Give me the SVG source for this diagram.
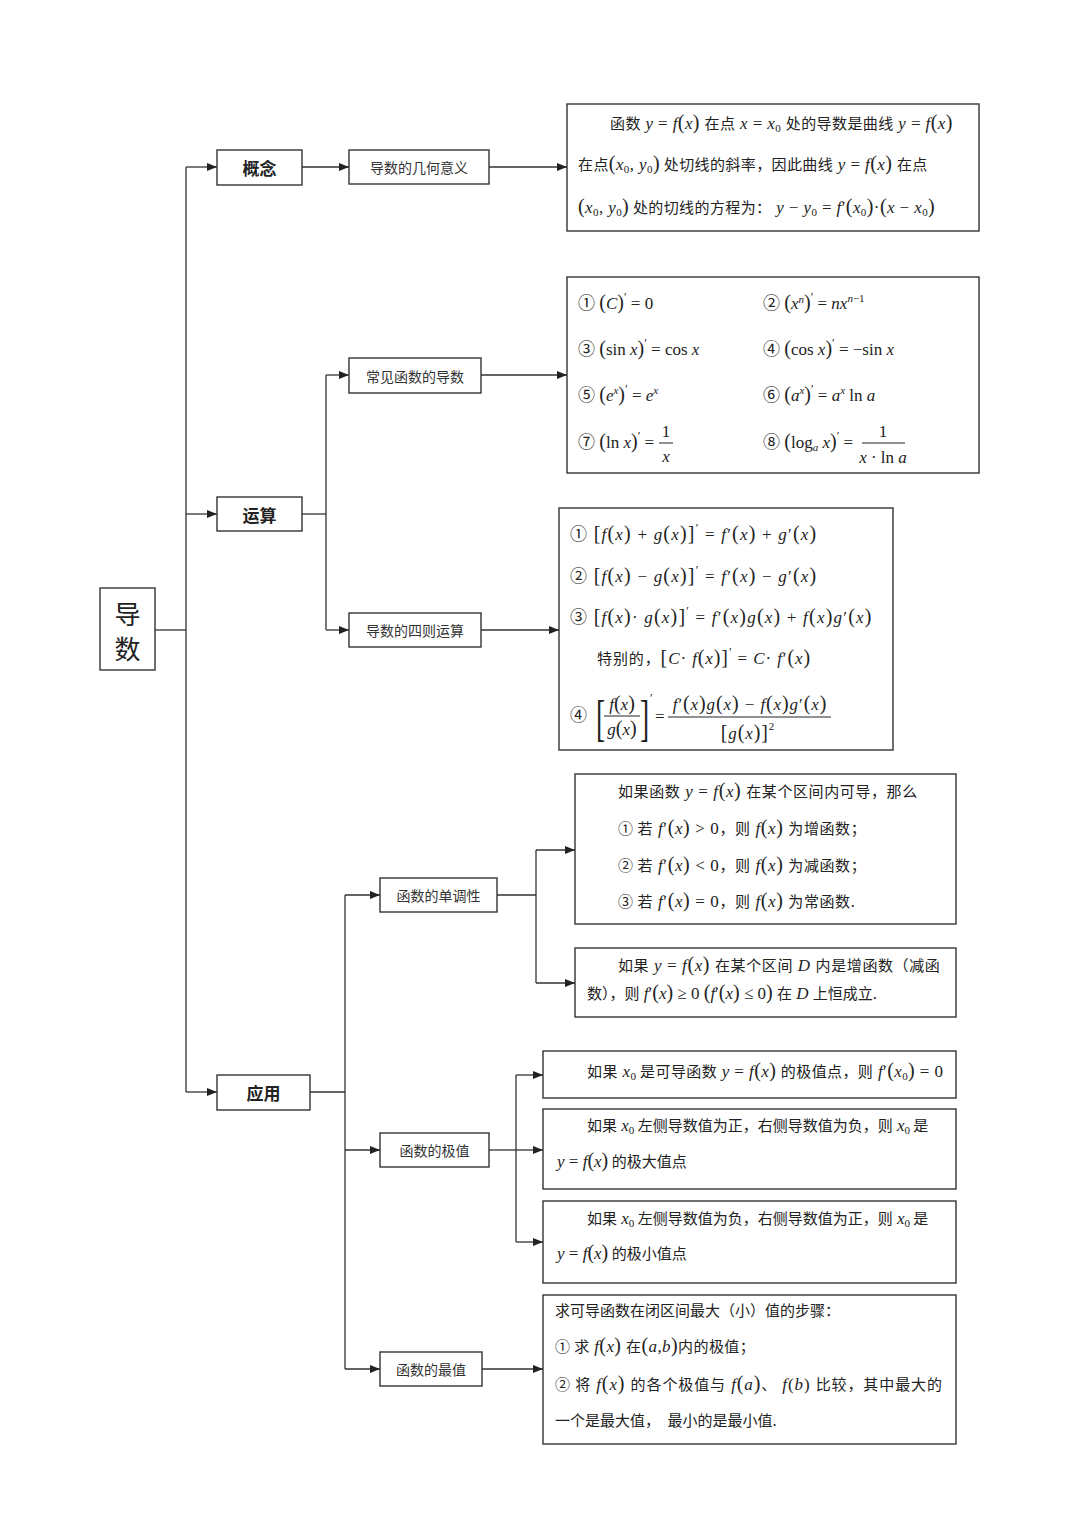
<svg xmlns="http://www.w3.org/2000/svg" width="1080" height="1529" viewBox="0 0 1080 1529">
<defs>
<style>
.box{fill:#fff;stroke:#333;stroke-width:1.4}
.ln{fill:none;stroke:#333;stroke-width:1.3}
.t{font-family:"Liberation Serif","Noto Sans CJK SC",serif;font-size:17px;fill:#222}
.c{font-family:"Noto Sans CJK SC","Liberation Serif",sans-serif;font-size:15px}
.i{font-style:italic}
.p{font-size:20px}
.s{font-size:11px}
.sp{font-size:12px}
.ls4{letter-spacing:0.4px}
.ls6{letter-spacing:0.6px}
.ls9{letter-spacing:0.9px}
.ls12{letter-spacing:1.2px}
.lab{font-family:"Noto Sans CJK SC",sans-serif;font-size:14px;fill:#333;text-anchor:middle;dominant-baseline:central}
.hd{font-family:"Noto Sans CJK SC",sans-serif;font-size:17px;font-weight:bold;fill:#222;text-anchor:middle;dominant-baseline:central}
.root{font-family:"Noto Sans CJK SC",sans-serif;font-size:26px;fill:#222;text-anchor:middle;dominant-baseline:central}
.mid{text-anchor:middle}
.bar{stroke:#222;stroke-width:1}
</style>
<marker id="ah" markerUnits="userSpaceOnUse" markerWidth="10" markerHeight="8" refX="10" refY="4" orient="auto">
<path d="M0,0 L10,4 L0,8 z" fill="#222"/>
</marker>
</defs>
<rect width="1080" height="1529" fill="#fff"/>

<g id="connectors">
<path class="ln" d="M155,630 H186"/>
<path class="ln" d="M186,167 V1092"/>
<path class="ln" d="M186,167 H217" marker-end="url(#ah)"/>
<path class="ln" d="M186,514 H217" marker-end="url(#ah)"/>
<path class="ln" d="M186,1092 H217" marker-end="url(#ah)"/>
<path class="ln" d="M302,167 H349" marker-end="url(#ah)"/>
<path class="ln" d="M489,167 H567" marker-end="url(#ah)"/>
<path class="ln" d="M302,514 H326"/>
<path class="ln" d="M326,375 V630"/>
<path class="ln" d="M326,375 H349" marker-end="url(#ah)"/>
<path class="ln" d="M326,630 H349" marker-end="url(#ah)"/>
<path class="ln" d="M481,375 H567" marker-end="url(#ah)"/>
<path class="ln" d="M481,630 H559" marker-end="url(#ah)"/>
<path class="ln" d="M310,1092 H345"/>
<path class="ln" d="M345,895 V1369"/>
<path class="ln" d="M345,895 H380" marker-end="url(#ah)"/>
<path class="ln" d="M345,1150 H380" marker-end="url(#ah)"/>
<path class="ln" d="M345,1369 H380" marker-end="url(#ah)"/>
<path class="ln" d="M497,895 H536"/>
<path class="ln" d="M536,850 V983"/>
<path class="ln" d="M536,850 H575" marker-end="url(#ah)"/>
<path class="ln" d="M536,983 H575" marker-end="url(#ah)"/>
<path class="ln" d="M489,1150 H516"/>
<path class="ln" d="M516,1075 V1242"/>
<path class="ln" d="M516,1075 H543" marker-end="url(#ah)"/>
<path class="ln" d="M516,1150 H543" marker-end="url(#ah)"/>
<path class="ln" d="M516,1242 H543" marker-end="url(#ah)"/>
<path class="ln" d="M482,1369 H543" marker-end="url(#ah)"/>
</g>

<g id="root">
<rect class="box" x="100" y="588" width="55" height="82"/>
<text class="root" x="127.5" y="612">导</text>
<text class="root" x="127.5" y="647">数</text>
</g>

<g id="gainian">
<rect class="box" x="217" y="150" width="85" height="35"/>
<text class="hd" x="259.5" y="167.5">概念</text>
</g>
<g id="yunsuan">
<rect class="box" x="217" y="497" width="85" height="34"/>
<text class="hd" x="259.5" y="514">运算</text>
</g>
<g id="yingyong">
<rect class="box" x="217" y="1075" width="93" height="35"/>
<text class="hd" x="263.5" y="1092.5">应用</text>
</g>

<g id="jihe">
<rect class="box" x="349" y="150" width="140" height="34"/>
<text class="lab" x="419" y="167">导数的几何意义</text>
</g>
<g id="changjian">
<rect class="box" x="349" y="358" width="132" height="35"/>
<text class="lab" x="415" y="375.5">常见函数的导数</text>
</g>
<g id="sizeyunsuan">
<rect class="box" x="349" y="613" width="132" height="34"/>
<text class="lab" x="415" y="630">导数的四则运算</text>
</g>
<g id="dandiao">
<rect class="box" x="380" y="878" width="117" height="34"/>
<text class="lab" x="438.5" y="895">函数的单调性</text>
</g>
<g id="jizhi">
<rect class="box" x="380" y="1133" width="109" height="34"/>
<text class="lab" x="434.5" y="1150">函数的极值</text>
</g>
<g id="zuizhi">
<rect class="box" x="380" y="1352" width="102" height="34"/>
<text class="lab" x="431" y="1369">函数的最值</text>
</g>

<g id="box-geometry">
<rect class="box" x="567" y="104" width="412" height="127"/>
<text class="t ls4" x="610" y="129"><tspan class="c">函数</tspan> <tspan class="i">y</tspan> = <tspan class="i">f</tspan><tspan class="p">(</tspan><tspan class="i">x</tspan><tspan class="p">)</tspan> <tspan class="c">在点</tspan> <tspan class="i">x</tspan> = <tspan class="i">x</tspan><tspan class="s" dy="3">0</tspan><tspan dy="-3"> </tspan><tspan class="c">处的导数是曲线</tspan> <tspan class="i">y</tspan> = <tspan class="i">f</tspan><tspan class="p">(</tspan><tspan class="i">x</tspan><tspan class="p">)</tspan></text>
<text class="t ls4" x="578" y="170"><tspan class="c">在点</tspan><tspan class="p">(</tspan><tspan class="i">x</tspan><tspan class="s" dy="3">0</tspan><tspan dy="-3">, </tspan><tspan class="i">y</tspan><tspan class="s" dy="3">0</tspan><tspan class="p" dy="-3">)</tspan><tspan class="c"> 处切线的斜率，因此曲线</tspan> <tspan class="i">y</tspan> = <tspan class="i">f</tspan><tspan class="p">(</tspan><tspan class="i">x</tspan><tspan class="p">)</tspan> <tspan class="c">在点</tspan></text>
<text class="t ls4" x="578" y="213"><tspan class="p">(</tspan><tspan class="i">x</tspan><tspan class="s" dy="3">0</tspan><tspan dy="-3">, </tspan><tspan class="i">y</tspan><tspan class="s" dy="3">0</tspan><tspan class="p" dy="-3">)</tspan><tspan class="c"> 处的切线的方程为：</tspan>  <tspan class="i">y</tspan> − <tspan class="i">y</tspan><tspan class="s" dy="3">0</tspan><tspan dy="-3"> = </tspan><tspan class="i">f</tspan>′<tspan class="p">(</tspan><tspan class="i">x</tspan><tspan class="s" dy="3">0</tspan><tspan class="p" dy="-3">)</tspan>·<tspan class="p">(</tspan><tspan class="i">x</tspan> − <tspan class="i">x</tspan><tspan class="s" dy="3">0</tspan><tspan class="p" dy="-3">)</tspan></text>
</g>

<g id="box-common">
<rect class="box" x="567" y="277" width="412" height="196"/>
<text class="t" x="578" y="309">①  <tspan class="p">(</tspan><tspan class="i">C</tspan><tspan class="p">)</tspan><tspan class="sp" dy="-8">′</tspan><tspan dy="8"> = 0</tspan></text>
<text class="t" x="763" y="309">②  <tspan class="p">(</tspan><tspan class="i">x</tspan><tspan class="s i" dy="-6">n</tspan><tspan class="p" dy="6">)</tspan><tspan class="sp" dy="-8">′</tspan><tspan dy="8"> = </tspan><tspan class="i">nx</tspan><tspan class="s" dy="-7"><tspan class="i">n</tspan>−1</tspan></text>
<text class="t" x="578" y="355">③  <tspan class="p">(</tspan>sin <tspan class="i">x</tspan><tspan class="p">)</tspan><tspan class="sp" dy="-8">′</tspan><tspan dy="8"> = cos </tspan><tspan class="i">x</tspan></text>
<text class="t" x="763" y="355">④  <tspan class="p">(</tspan>cos <tspan class="i">x</tspan><tspan class="p">)</tspan><tspan class="sp" dy="-8">′</tspan><tspan dy="8"> = −sin </tspan><tspan class="i">x</tspan></text>
<text class="t" x="578" y="401">⑤  <tspan class="p">(</tspan><tspan class="i">e</tspan><tspan class="s i" dy="-7">x</tspan><tspan class="p" dy="7">)</tspan><tspan class="sp" dy="-8">′</tspan><tspan dy="8"> = </tspan><tspan class="i">e</tspan><tspan class="s i" dy="-7">x</tspan></text>
<text class="t" x="763" y="401">⑥  <tspan class="p">(</tspan><tspan class="i">a</tspan><tspan class="s i" dy="-7">x</tspan><tspan class="p" dy="7">)</tspan><tspan class="sp" dy="-8">′</tspan><tspan dy="8"> = </tspan><tspan class="i">a</tspan><tspan class="s i" dy="-7">x</tspan><tspan dy="7"> ln </tspan><tspan class="i">a</tspan></text>
<text class="t" x="578" y="448">⑦  <tspan class="p">(</tspan>ln <tspan class="i">x</tspan><tspan class="p">)</tspan><tspan class="sp" dy="-8">′</tspan><tspan dy="8"> =</tspan></text>
<text class="t mid" x="666" y="437">1</text>
<line class="bar" x1="659" y1="443" x2="673" y2="443"/>
<text class="t mid i" x="666" y="462">x</text>
<text class="t" x="763" y="448">⑧  <tspan class="p">(</tspan>log<tspan class="s i" dy="3">a</tspan><tspan dy="-3"> </tspan><tspan class="i">x</tspan><tspan class="p">)</tspan><tspan class="sp" dy="-8">′</tspan><tspan dy="8"> =</tspan></text>
<text class="t mid" x="883" y="437">1</text>
<line class="bar" x1="862" y1="443" x2="905" y2="443"/>
<text class="t mid" x="883" y="463"><tspan class="i">x</tspan> · ln <tspan class="i">a</tspan></text>
</g>

<g id="box-rules">
<rect class="box" x="559" y="508" width="334" height="242"/>
<text class="t ls12" x="570" y="540">①  <tspan class="p">[</tspan><tspan class="i">f</tspan><tspan class="p">(</tspan><tspan class="i">x</tspan><tspan class="p">)</tspan> + <tspan class="i">g</tspan><tspan class="p">(</tspan><tspan class="i">x</tspan><tspan class="p">)]</tspan><tspan class="sp" dy="-8">′</tspan><tspan dy="8"> = </tspan><tspan class="i">f</tspan>′<tspan class="p">(</tspan><tspan class="i">x</tspan><tspan class="p">)</tspan> + <tspan class="i">g</tspan>′<tspan class="p">(</tspan><tspan class="i">x</tspan><tspan class="p">)</tspan></text>
<text class="t ls12" x="570" y="582">②  <tspan class="p">[</tspan><tspan class="i">f</tspan><tspan class="p">(</tspan><tspan class="i">x</tspan><tspan class="p">)</tspan> − <tspan class="i">g</tspan><tspan class="p">(</tspan><tspan class="i">x</tspan><tspan class="p">)]</tspan><tspan class="sp" dy="-8">′</tspan><tspan dy="8"> = </tspan><tspan class="i">f</tspan>′<tspan class="p">(</tspan><tspan class="i">x</tspan><tspan class="p">)</tspan> − <tspan class="i">g</tspan>′<tspan class="p">(</tspan><tspan class="i">x</tspan><tspan class="p">)</tspan></text>
<text class="t ls12" x="570" y="623">③  <tspan class="p">[</tspan><tspan class="i">f</tspan><tspan class="p">(</tspan><tspan class="i">x</tspan><tspan class="p">)</tspan>· <tspan class="i">g</tspan><tspan class="p">(</tspan><tspan class="i">x</tspan><tspan class="p">)]</tspan><tspan class="sp" dy="-8">′</tspan><tspan dy="8"> = </tspan><tspan class="i">f</tspan>′<tspan class="p">(</tspan><tspan class="i">x</tspan><tspan class="p">)</tspan><tspan class="i">g</tspan><tspan class="p">(</tspan><tspan class="i">x</tspan><tspan class="p">)</tspan> + <tspan class="i">f</tspan><tspan class="p">(</tspan><tspan class="i">x</tspan><tspan class="p">)</tspan><tspan class="i">g</tspan>′<tspan class="p">(</tspan><tspan class="i">x</tspan><tspan class="p">)</tspan></text>
<text class="t ls9" x="597" y="664"><tspan class="c">特别的，</tspan><tspan class="p">[</tspan><tspan class="i">C</tspan>· <tspan class="i">f</tspan><tspan class="p">(</tspan><tspan class="i">x</tspan><tspan class="p">)]</tspan><tspan class="sp" dy="-8">′</tspan><tspan dy="8"> = </tspan><tspan class="i">C</tspan>· <tspan class="i">f</tspan>′<tspan class="p">(</tspan><tspan class="i">x</tspan><tspan class="p">)</tspan></text>
<text class="t" x="570" y="721">④</text>
<text class="t" transform="translate(596,735) scale(0.55,1)" style="font-size:50px">[</text>
<text class="t mid" x="622" y="710"><tspan class="i">f</tspan><tspan class="p">(</tspan><tspan class="i">x</tspan><tspan class="p">)</tspan></text>
<line class="bar" x1="604" y1="716" x2="640" y2="716"/>
<text class="t mid" x="622" y="735"><tspan class="i">g</tspan><tspan class="p">(</tspan><tspan class="i">x</tspan><tspan class="p">)</tspan></text>
<text class="t" transform="translate(640,735) scale(0.55,1)" style="font-size:50px">]</text>
<text class="t" x="650" y="702" style="font-size:12px">′</text>
<text class="t" x="655" y="722">=</text>
<text class="t mid ls9" x="750" y="710"><tspan class="i">f</tspan>′<tspan class="p">(</tspan><tspan class="i">x</tspan><tspan class="p">)</tspan><tspan class="i">g</tspan><tspan class="p">(</tspan><tspan class="i">x</tspan><tspan class="p">)</tspan> − <tspan class="i">f</tspan><tspan class="p">(</tspan><tspan class="i">x</tspan><tspan class="p">)</tspan><tspan class="i">g</tspan>′<tspan class="p">(</tspan><tspan class="i">x</tspan><tspan class="p">)</tspan></text>
<line class="bar" x1="668" y1="717" x2="831" y2="717"/>
<text class="t mid ls9" x="748" y="739"><tspan class="p">[</tspan><tspan class="i">g</tspan><tspan class="p">(</tspan><tspan class="i">x</tspan><tspan class="p">)]</tspan><tspan class="s" dy="-9">2</tspan></text>
</g>

<g id="box-mono1">
<rect class="box" x="575" y="774" width="381" height="150"/>
<text class="t ls6" x="618" y="797"><tspan class="c">如果函数</tspan> <tspan class="i">y</tspan> = <tspan class="i">f</tspan><tspan class="p">(</tspan><tspan class="i">x</tspan><tspan class="p">)</tspan> <tspan class="c">在某个区间内可导，那么</tspan></text>
<text class="t ls6" x="618" y="834"><tspan class="c">① 若</tspan> <tspan class="i">f</tspan>′<tspan class="p">(</tspan><tspan class="i">x</tspan><tspan class="p">)</tspan> &gt; 0<tspan class="c">，则</tspan> <tspan class="i">f</tspan><tspan class="p">(</tspan><tspan class="i">x</tspan><tspan class="p">)</tspan> <tspan class="c">为增函数；</tspan></text>
<text class="t ls6" x="618" y="871"><tspan class="c">② 若</tspan> <tspan class="i">f</tspan>′<tspan class="p">(</tspan><tspan class="i">x</tspan><tspan class="p">)</tspan> &lt; 0<tspan class="c">，则</tspan> <tspan class="i">f</tspan><tspan class="p">(</tspan><tspan class="i">x</tspan><tspan class="p">)</tspan> <tspan class="c">为减函数；</tspan></text>
<text class="t ls6" x="618" y="907"><tspan class="c">③ 若</tspan> <tspan class="i">f</tspan>′<tspan class="p">(</tspan><tspan class="i">x</tspan><tspan class="p">)</tspan> = 0<tspan class="c">，则</tspan> <tspan class="i">f</tspan><tspan class="p">(</tspan><tspan class="i">x</tspan><tspan class="p">)</tspan> <tspan class="c">为常函数.</tspan></text>
</g>

<g id="box-mono2">
<rect class="box" x="575" y="948" width="381" height="69"/>
<text class="t ls6" x="618" y="971"><tspan class="c">如果</tspan> <tspan class="i">y</tspan> = <tspan class="i">f</tspan><tspan class="p">(</tspan><tspan class="i">x</tspan><tspan class="p">)</tspan> <tspan class="c">在某个区间</tspan> <tspan class="i">D</tspan> <tspan class="c">内是增函数（减函</tspan></text>
<text class="t" x="587" y="999"><tspan class="c">数），则</tspan> <tspan class="i">f</tspan>′<tspan class="p">(</tspan><tspan class="i">x</tspan><tspan class="p">)</tspan> ≥ 0 <tspan class="p">(</tspan><tspan class="i">f</tspan>′<tspan class="p">(</tspan><tspan class="i">x</tspan><tspan class="p">)</tspan> ≤ 0<tspan class="p">)</tspan> <tspan class="c">在</tspan> <tspan class="i">D</tspan> <tspan class="c">上恒成立.</tspan></text>
</g>

<g id="box-ext1">
<rect class="box" x="543" y="1051" width="413" height="47"/>
<text class="t ls4" x="587" y="1077"><tspan class="c">如果</tspan> <tspan class="i">x</tspan><tspan class="s" dy="3">0</tspan><tspan class="c" dy="-3"> 是可导函数</tspan> <tspan class="i">y</tspan> = <tspan class="i">f</tspan><tspan class="p">(</tspan><tspan class="i">x</tspan><tspan class="p">)</tspan> <tspan class="c">的极值点，则</tspan> <tspan class="i">f</tspan>′<tspan class="p">(</tspan><tspan class="i">x</tspan><tspan class="s" dy="3">0</tspan><tspan class="p" dy="-3">)</tspan> = 0</text>
</g>

<g id="box-ext2">
<rect class="box" x="543" y="1109" width="413" height="80"/>
<text class="t" x="587" y="1131"><tspan class="c">如果</tspan> <tspan class="i">x</tspan><tspan class="s" dy="3">0</tspan><tspan class="c" dy="-3"> 左侧导数值为正，右侧导数值为负，则</tspan> <tspan class="i">x</tspan><tspan class="s" dy="3">0</tspan><tspan class="c" dy="-3"> 是</tspan></text>
<text class="t" x="557" y="1167"><tspan class="i">y</tspan> = <tspan class="i">f</tspan><tspan class="p">(</tspan><tspan class="i">x</tspan><tspan class="p">)</tspan><tspan class="c"> 的极大值点</tspan></text>
</g>

<g id="box-ext3">
<rect class="box" x="543" y="1201" width="413" height="82"/>
<text class="t" x="587" y="1224"><tspan class="c">如果</tspan> <tspan class="i">x</tspan><tspan class="s" dy="3">0</tspan><tspan class="c" dy="-3"> 左侧导数值为负，右侧导数值为正，则</tspan> <tspan class="i">x</tspan><tspan class="s" dy="3">0</tspan><tspan class="c" dy="-3"> 是</tspan></text>
<text class="t" x="557" y="1259"><tspan class="i">y</tspan> = <tspan class="i">f</tspan><tspan class="p">(</tspan><tspan class="i">x</tspan><tspan class="p">)</tspan><tspan class="c"> 的极小值点</tspan></text>
</g>

<g id="box-max">
<rect class="box" x="543" y="1295" width="413" height="149"/>
<text class="t" x="555" y="1316"><tspan class="c">求可导函数在闭区间最大（小）值的步骤：</tspan></text>
<text class="t ls4" x="555" y="1352"><tspan class="c">① 求</tspan> <tspan class="i">f</tspan><tspan class="p">(</tspan><tspan class="i">x</tspan><tspan class="p">)</tspan> <tspan class="c">在</tspan><tspan class="p">(</tspan><tspan class="i">a</tspan>,<tspan class="i">b</tspan><tspan class="p">)</tspan><tspan class="c">内的极值；</tspan></text>
<text class="t ls9" x="555" y="1390"><tspan class="c">② 将</tspan> <tspan class="i">f</tspan><tspan class="p">(</tspan><tspan class="i">x</tspan><tspan class="p">)</tspan> <tspan class="c">的各个极值与</tspan> <tspan class="i">f</tspan><tspan class="p">(</tspan><tspan class="i">a</tspan><tspan class="p">)</tspan><tspan class="c">、</tspan> <tspan class="i">f</tspan>(<tspan class="i">b</tspan>) <tspan class="c">比较，其中最大的</tspan></text>
<text class="t" x="555" y="1426"><tspan class="c">一个是最大值，　最小的是最小值.</tspan></text>
</g>
</svg>
